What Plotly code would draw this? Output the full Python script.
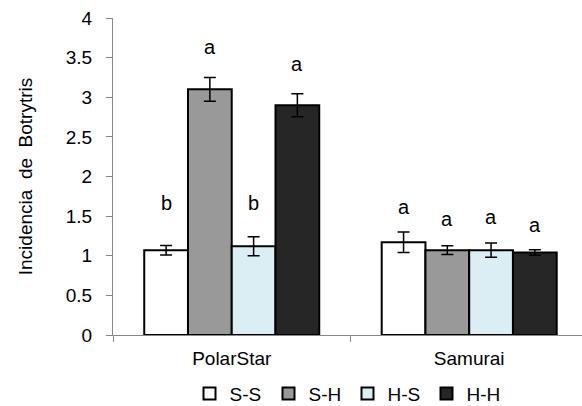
import plotly.graph_objects as go

categories = ["PolarStar", "Samurai"]
series_names = ["S-S", "S-H", "H-S", "H-H"]
values = {
    "S-S": [1.07, 1.17],
    "S-H": [3.10, 1.07],
    "H-S": [1.12, 1.07],
    "H-H": [2.90, 1.04],
}
errors = {
    "S-S": [0.06, 0.13],
    "S-H": [0.15, 0.055],
    "H-S": [0.12, 0.09],
    "H-H": [0.145, 0.035],
}
letters = {
    "S-S": ["b", "a"],
    "S-H": ["a", "a"],
    "H-S": ["b", "a"],
    "H-H": ["a", "a"],
}
letter_y = {
    "S-S": [1.66, 1.61],
    "S-H": [3.63, 1.47],
    "H-S": [1.66, 1.49],
    "H-H": [3.42, 1.39],
}
colors = {"S-S": "#FFFFFF", "S-H": "#999999", "H-S": "#DAEEF3", "H-H": "#262626"}

BARGAP = 0.263
FONT = "Liberation Sans, Arial, sans-serif"

fig = go.Figure()
for s in series_names:
    fig.add_trace(go.Bar(
        name=s, x=categories, y=values[s],
        marker=dict(color=colors[s], line=dict(color="black", width=2)),
        error_y=dict(type="data", array=errors[s], color="black", thickness=1.5, width=6),
    ))

# significance letters above each bar
n = len(series_names)
bw = (1 - BARGAP) / n
for i, s in enumerate(series_names):
    for j, c in enumerate(categories):
        fig.add_annotation(
            x=j + (i - (n - 1) / 2) * bw, y=letter_y[s][j], xref="x", yref="y",
            text=letters[s][j], showarrow=False, yanchor="middle",
            font=dict(family=FONT, size=20, color="black"),
        )

fig.update_layout(
    width=582, height=406,
    margin=dict(l=113, r=0, t=18, b=71, autoexpand=False),
    plot_bgcolor="white", paper_bgcolor="white",
    barmode="group", bargap=BARGAP, bargroupgap=0,
    font=dict(family=FONT, size=19, color="black"),
    showlegend=True,
    legend=dict(orientation="h", x=0.5, xanchor="center", y=-0.185, yanchor="middle",
                font=dict(size=19), itemwidth=30, traceorder="normal",
                entrywidth=34, itemclick=False),
    xaxis=dict(range=[-0.5, 1.475], showline=True, linecolor="#888888", linewidth=1,
               ticks="outside", tickson="boundaries", ticklen=6, tickcolor="#888888",
               tickfont=dict(size=19), ticklabelstandoff=6),
    yaxis=dict(range=[0, 4], dtick=0.5, showline=True, linecolor="#888888", linewidth=1,
               ticks="outside", ticklen=6, tickcolor="#888888", showgrid=False,
               zeroline=False, tickfont=dict(size=19), ticklabelstandoff=10,
               title=dict(text="Incidencia  de  Botrytris", font=dict(size=19), standoff=28)),
)
fig.write_html("out.html")
